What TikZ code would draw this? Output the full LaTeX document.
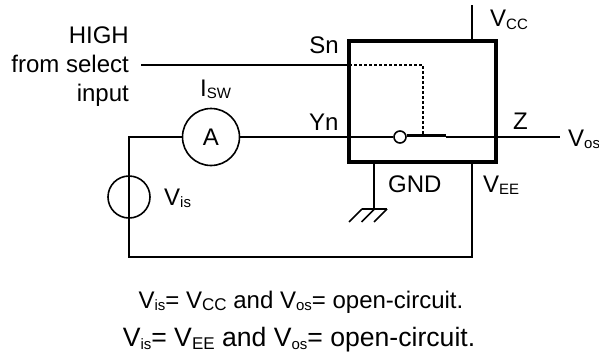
\documentclass[tikz,border=0pt]{standalone}
\usepackage{fontspec}
\usetikzlibrary{calc}
\setmainfont{Liberation Sans}
\newcommand{\lowsub}[1]{\raisebox{-0.12em}{\fontsize{15}{16}\selectfont #1}}
\newcommand{\lowsubb}[1]{\raisebox{-0.12em}{\fontsize{17}{18}\selectfont #1}}
\tikzset{
  wire/.style={line width=1.6pt,black},
  boxline/.style={line width=3.3pt,black},
  lab/.style={inner sep=0pt,font=\fontsize{24}{28}\selectfont,text=black},
  meter/.style={circle,draw=black,line width=1.6pt,fill=none,inner sep=0pt,minimum size=#1},
  note/.style={inner sep=0pt,text=black}
}
\begin{document}
\begin{tikzpicture}[x=1pt,y=-1pt]
\useasboundingbox (0,0) rectangle (599,356);
\fill[white] (0,0) rectangle (599,356);
% named points
\node[meter=57pt] (am) at (211,137) {};
\node[lab] at (211,137) {A};
\node[meter=42pt] (vs) at (129,197) {};
\node[meter=12pt] (sw) at (400,137) {};
\coordinate (vcct) at (472,5);
\coordinate (vccb) at (472,41);
\coordinate (snl) at (141,65);
\coordinate (snr) at (349,65);
\coordinate (dk) at (423,65);
\coordinate (dk2) at (423,135);
\coordinate (tl) at (129,137);
\coordinate (bl) at (129,257);
\coordinate (br) at (472,257);
\coordinate (bb) at (472,162);
\coordinate (gt) at (374,162);
\coordinate (gb) at (374,209);
\coordinate (gl) at (362,209);
\coordinate (gr) at (387,209);
\coordinate (swe) at (446,135.5);
\coordinate (zl) at (446,137);
\coordinate (zr) at (560,137);
% wires
\draw[wire] (vcct) -- (vccb);
\draw[wire] (snl) -- (snr);
\draw[wire,dash pattern=on 3pt off 2pt] (snr) -- (dk) -- (dk2);
\draw[wire] (am.east) -- (sw.west);
\draw[wire] (zl) -- (zr);
\draw[wire,line join=miter] (am.west) -- (tl) -- (bl) -- (br) -- (bb);
\draw[wire] (gt) -- (gb);
\draw[wire] (gl) -- (gr);
\draw[wire] (gl) -- ++(-13,13);
\draw[wire] ($(gl)!0.5!(gr)$) -- ++(-13,13);
\draw[wire] (gr) -- ++(-13,13);
\draw[line width=2.6pt] ($(sw.east)+(0,-1.5)$) -- (swe);
% box
\draw[boxline] (349,41) rectangle (496,162);
% labels
\node[lab,anchor=base west] at (490,27) {V\lowsub{CC}};
\node[lab,anchor=base east] at (339,53) {Sn};
\node[lab,anchor=base east] at (129,43) {HIGH};
\node[lab,anchor=base east] at (129,72) {from select};
\node[lab,anchor=base east] at (129,101) {input};
\node[lab,anchor=base west] at (200,96) {I\lowsub{SW}};
\node[lab,anchor=base west] at (309,130) {Yn};
\node[lab,anchor=base west] at (513,129.5) {Z};
\node[lab,anchor=base west] at (568,146) {V\lowsub{os}};
\node[lab,anchor=base west] at (164,205) {V\lowsub{is}};
\node[lab,anchor=base west] at (388,192) {GND};
\node[lab,anchor=base west] at (483,192) {V\lowsub{EE}};
\node[note,anchor=base,font=\fontsize{24}{27}\selectfont] at (301,308) {V\lowsub{is}= V\lowsubb{CC} and V\lowsub{os}= open-circuit.};
\node[note,anchor=base,font=\fontsize{26.6}{30}\selectfont] at (299,346) {V\lowsub{is}= V\lowsubb{EE} and V\lowsub{os}= open-circuit.};
\end{tikzpicture}
\end{document}
